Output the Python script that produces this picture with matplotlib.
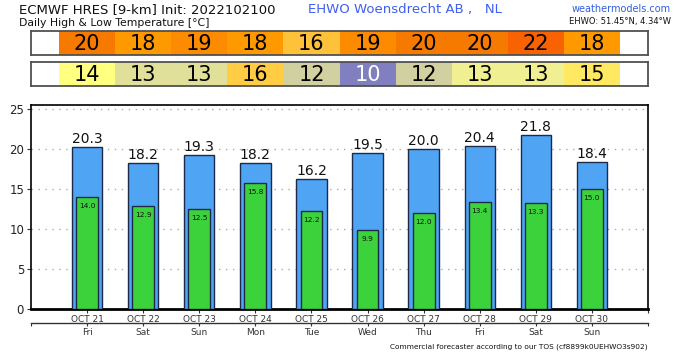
import matplotlib
matplotlib.use('Agg')
import matplotlib.pyplot as plt
import numpy as np

dates = ['OCT 21', 'OCT 22', 'OCT 23', 'OCT 24', 'OCT 25',
         'OCT 26', 'OCT 27', 'OCT 28', 'OCT 29', 'OCT 30']
days = ['Fri', 'Sat', 'Sun', 'Mon', 'Tue', 'Wed', 'Thu', 'Fri', 'Sat', 'Sun']
highs = [20.3, 18.2, 19.3, 18.2, 16.2, 19.5, 20.0, 20.4, 21.8, 18.4]
lows = [14.0, 12.9, 12.5, 15.8, 12.2, 9.9, 12.0, 13.4, 13.3, 15.0]
high_round = [20, 18, 19, 18, 16, 19, 20, 20, 22, 18]
low_round = [14, 13, 13, 16, 12, 10, 12, 13, 13, 15]
high_colors = ['#F77A00', '#FF9900', '#FC8B00', '#FF9900', '#FDC23A',
               '#FC8B00', '#F77A00', '#F77A00', '#F86200', '#FF9900']
low_colors = ['#FFFF80', '#E0E09A', '#E0E09A', '#FFCC44', '#D0D0A0',
              '#8080C0', '#D0D0A0', '#F0F092', '#F0F092', '#FFE862']
low_text_colors = ['black'] * 5 + ['white'] + ['black'] * 4
yticks = [0, 5, 10, 15, 20, 25]

x = np.arange(len(dates))
W, H = 680, 353
fig = plt.figure(figsize=(W / 100, H / 100), dpi=100)
fig.patch.set_facecolor('white')

def fax(l, t, r, b):
    return fig.add_axes([l / W, 1 - b / H, (r - l) / W, (b - t) / H])

# Top colored boxes
for (t, b, vals, cols, tcols) in [(31, 55, high_round, high_colors, ['black'] * 10),
                                  (62, 86, low_round, low_colors, low_text_colors)]:
    a = fax(31, t, 648, b)
    a.bar(x, 1, width=1.0, bottom=0, color=cols, edgecolor='none')
    for xi, v, tc in zip(x, vals, tcols):
        a.text(xi, 0.45, str(v), ha='center', va='center', fontsize=15, color=tc)
    a.set_xlim(-1, 10)
    a.set_ylim(0, 1)
    a.set_xticks([])
    a.set_yticks([])
    for s in a.spines.values():
        s.set_color('#505050')
        s.set_linewidth(1.3)

# Main axes
ax = fax(31, 105, 648, 309)
ax.bar(x, highs, width=0.54, color='#50A4F4', edgecolor='#1C2A48', linewidth=1.0, zorder=3)
ax.bar(x, lows, width=0.39, color='#3CD23C', edgecolor='#1C2A48', linewidth=1.0, zorder=4)
for xi, h, l in zip(x, highs, lows):
    ax.text(xi, h + 0.5, f'{h:.1f}', ha='center', va='baseline', fontsize=10, color='#111111', zorder=5)
    ax.text(xi, l - 0.75, f'{l:.1f}', ha='center', va='top', fontsize=5.3, color='#111111', zorder=5)
ax.set_xlim(-1, 10)
ax.set_ylim(0, 25.5)
ax.set_yticks(yticks)
ax.set_yticklabels([str(v) for v in yticks], fontsize=8.5, color='#222222')
ax.set_xticks(list(x) + [10])
ax.set_xticklabels(dates + [''], fontsize=6.5, color='#333333')
ax.tick_params(axis='x', length=3, pad=1, color='#333333')
ax.tick_params(axis='y', length=3, pad=2, color='#333333')
ax.grid(axis='y', linestyle=(0, (1, 4)), color='#AAAAAA', linewidth=1.0, zorder=0)
for s in ax.spines.values():
    s.set_color('black')
    s.set_linewidth(1.2)
ax.spines['bottom'].set_linewidth(2.0)

sec = ax.secondary_xaxis(-0.0686)
sec.set_xticks([-1] + list(x) + [10])
sec.set_xticklabels([''] + days + [''], fontsize=6.5, color='#333333')
sec.tick_params(length=2.5, pad=1, color='#333333')
sec.spines['bottom'].set_color('#333333')
sec.spines['bottom'].set_linewidth(1.0)

# Texts
fig.text(19 / W, 1 - 13 / H, 'ECMWF HRES [9-km] Init: 2022102100', fontsize=9.5,
         color='#111111', va='baseline', ha='left')
fig.text(19 / W, 1 - 25.5 / H, 'Daily High & Low Temperature [°C]', fontsize=7.8,
         color='#111111', va='baseline', ha='left')
fig.text(308 / W, 1 - 13 / H, 'EHWO Woensdrecht AB ,   NL', fontsize=9.5,
         color='#3F5FF0', va='baseline', ha='left')
fig.text(671 / W, 1 - 12 / H, 'weathermodels.com', fontsize=7,
         color='#3060E0', va='baseline', ha='right')
fig.text(671 / W, 1 - 24 / H, 'EHWO: 51.45°N, 4.34°W', fontsize=6,
         color='#111111', va='baseline', ha='right')
fig.text(648 / W, 1 - 349 / H, 'Commercial forecaster according to our TOS (cf8899k0UEHWO3s902)',
         fontsize=5.3, color='#111111', va='baseline', ha='right')

fig.savefig('out.png', dpi=100, facecolor='white')
